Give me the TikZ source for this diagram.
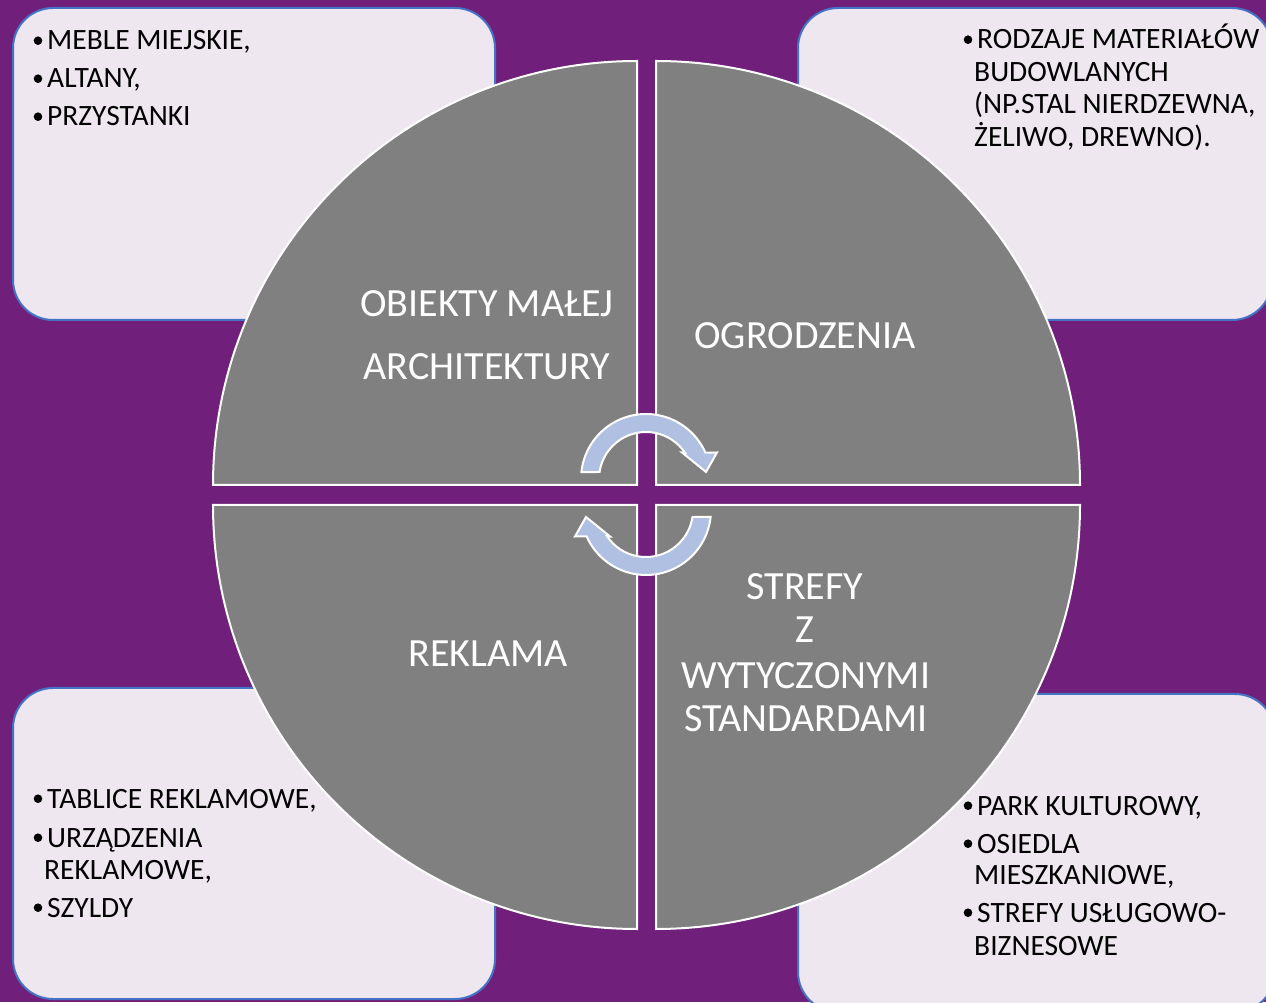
\documentclass[tikz,border=0pt]{standalone}
\usepackage{fontspec}
\setmainfont{Carlito}
\definecolor{bgpurple}{RGB}{112,31,123}
\definecolor{boxfill}{RGB}{239,231,240}
\definecolor{boxline}{RGB}{68,114,196}
\definecolor{quadgray}{RGB}{128,128,128}
\definecolor{arrowblue}{RGB}{176,192,226}
\newcommand{\bpt}{\makebox[14pt][l]{\hspace*{0.5pt}\raisebox{5pt}{\tikz\fill (0,0) circle (4.3pt);}}}
\tikzset{
  infobox/.style={fill=boxfill, draw=boxline, line width=2pt, rounded corners=40pt},
  quad/.style={fill=quadgray, draw=white, line width=2pt},
  cyc/.style={fill=arrowblue, draw=white, line width=2pt, line join=miter},
  qlabel/.style={text=white, font=\fontsize{40}{48}\selectfont, anchor=base, inner sep=0pt},
  blist/.style={text=black, font=\fontsize{29.5}{33}\selectfont, anchor=base west, inner sep=0pt},
}
\begin{document}
\begin{tikzpicture}[x=1pt,y=1pt]
\useasboundingbox (0,0) rectangle (1266,1002);
\fill[bgpurple] (0,0) rectangle (1266,1002);
% info boxes
\draw[infobox] (13,682) rectangle (495,994);
\draw[infobox] (798,682) rectangle (1272,994);
\draw[infobox] (13,3) rectangle (495,314);
\draw[infobox] (798,-10) rectangle (1275,308);
% quadrants
\draw[quad] (637,517) -- (213,517) arc[start angle=180, end angle=90, radius=424] -- cycle;
\draw[quad] (656,517) -- (656,941) arc[start angle=90, end angle=0, radius=424] -- cycle;
\draw[quad] (637,497) -- (637,73) arc[start angle=270, end angle=180, radius=424] -- cycle;
\draw[quad] (656,497) -- (1080,497) arc[start angle=0, end angle=-90, radius=424] -- cycle;
% circular arrows
\begin{scope}[shift={(646,523)}]
\draw[cyc] (174:65) arc[start angle=174, end angle=24, radius=65]
  -- (71,26.5) -- (60,7) -- (36,26.5) -- (34:47)
  arc[start angle=34, end angle=171.4, radius=47] -- cycle;
\end{scope}
\begin{scope}[shift={(646,492)}, rotate=180]
\draw[cyc] (174:65) arc[start angle=174, end angle=24, radius=65]
  -- (71,26.5) -- (60,7) -- (36,26.5) -- (34:47)
  arc[start angle=34, end angle=171.4, radius=47] -- cycle;
\end{scope}
% quadrant labels
\node[qlabel] (q1a) at (487,685) {OBIEKTY MAŁEJ};
\node[qlabel] (q1b) at (487,622) {ARCHITEKTURY};
\node[qlabel] (q2a) at (805,653) {OGRODZENIA};
\node[qlabel] (q3a) at (488,335) {REKLAMA};
\node[qlabel] (q4a) at (805,402) {STREFY};
\node[qlabel] (q4b) at (805,359) {Z};
\node[qlabel] (q4c) at (806,313) {WYTYCZONYMI};
\node[qlabel] (q4d) at (806,270) {STANDARDAMI};
% bullet texts
\node[blist] (tl1) at (33,952) {\bpt MEBLE MIEJSKIE,};
\node[blist] (tl2) at (33,914) {\bpt ALTANY,};
\node[blist] (tl3) at (33,876) {\bpt PRZYSTANKI};
\node[blist] (tr1) at (963,953) {\bpt RODZAJE MATERIAŁÓW};
\node[blist] (tr2) at (974,920) {BUDOWLANYCH};
\node[blist] (tr3) at (974,888) {(NP.STAL NIERDZEWNA,};
\node[blist] (tr4) at (974,855) {ŻELIWO, DREWNO).};
\node[blist] (bl1) at (33,194) {\bpt TABLICE REKLAMOWE,};
\node[blist] (bl2) at (33,155) {\bpt URZĄDZENIA};
\node[blist] (bl3) at (44,123) {REKLAMOWE,};
\node[blist] (bl4) at (33,85) {\bpt SZYLDY};
\node[blist] (br1) at (963,187) {\bpt PARK KULTUROWY,};
\node[blist] (br2) at (963,149) {\bpt OSIEDLA};
\node[blist] (br3) at (974,118) {MIESZKANIOWE,};
\node[blist] (br4) at (963,80) {\bpt STREFY USŁUGOWO-};
\node[blist] (br5) at (974,47) {BIZNESOWE};
\end{tikzpicture}
\end{document}
